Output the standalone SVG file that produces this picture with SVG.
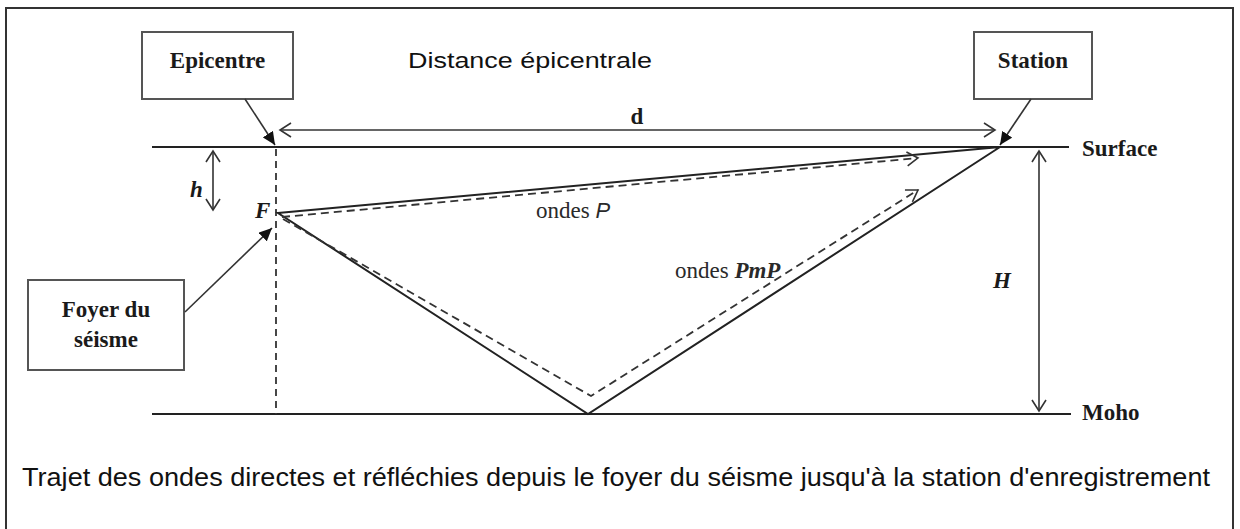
<svg xmlns="http://www.w3.org/2000/svg" width="1240" height="529" viewBox="0 0 1240 529">
<style>
.box{fill:#fff;stroke:#555;stroke-width:2}
.lbl{font-family:"Liberation Serif","Times New Roman",serif;font-weight:bold;font-size:23px;fill:#1a1a1a}
.ln{stroke:#222;stroke-width:2;fill:none}
.thin{stroke:#333;stroke-width:1.6;fill:none}
.dash{stroke:#333;stroke-width:1.8;fill:none;stroke-dasharray:8 5}
.it{font-family:"Liberation Serif","Times New Roman",serif;font-style:italic;font-weight:bold;font-size:23px;fill:#1a1a1a}
.sans{font-family:"Liberation Sans",Arial,sans-serif;fill:#111}
.ser{font-family:"Liberation Serif","Times New Roman",serif;font-size:23px;fill:#2a2a2a}
</style>
<defs>
<marker id="fill" markerUnits="userSpaceOnUse" markerWidth="14" markerHeight="12" refX="13" refY="6" orient="auto">
<path d="M0,0 L13,6 L0,12 z" fill="#111"/>
</marker>
<marker id="open" markerUnits="userSpaceOnUse" markerWidth="14" markerHeight="16" refX="12" refY="8" orient="auto-start-reverse">
<path d="M1,1 L12,8 L1,15" fill="none" stroke="#333" stroke-width="1.6"/>
</marker>
</defs>
<rect x="6" y="8" width="1227" height="540" fill="#fff" stroke="#333" stroke-width="2"/>

<g id="epicentre">
<rect class="box" x="142" y="32" width="151" height="67"/>
<text class="lbl" x="217.5" y="68" text-anchor="middle">Epicentre</text>
</g>
<g id="station">
<rect class="box" x="974" y="32" width="118" height="67"/>
<text class="lbl" x="1033" y="68" text-anchor="middle">Station</text>
</g>
<g id="foyer">
<rect class="box" x="28" y="280" width="156" height="90"/>
<text class="lbl" x="106" y="317" text-anchor="middle">Foyer du</text>
<text class="lbl" x="106" y="347" text-anchor="middle">séisme</text>
</g>
<g id="surface">
<line class="ln" x1="152" y1="147" x2="1069" y2="147"/>
<text class="lbl" x="1082" y="156">Surface</text>
</g>
<g id="moho">
<line class="ln" x1="152" y1="414" x2="1071" y2="414"/>
<text class="lbl" x="1082" y="420">Moho</text>
</g>
<g id="titre">
<text class="sans" x="408" y="68" font-size="22" textLength="244" lengthAdjust="spacingAndGlyphs">Distance épicentrale</text>
</g>
<g id="foyer-point">
<text class="it" x="255" y="218">F</text>
</g>
<g id="legende">
<text class="sans" x="22" y="486" font-size="25" textLength="1188" lengthAdjust="spacingAndGlyphs">Trajet des ondes directes et réfléchies depuis le foyer du séisme jusqu'à la station d'enregistrement</text>
</g>

<g id="connectors">
<line class="thin" x1="245" y1="99" x2="275" y2="145" marker-end="url(#fill)"/>
<line class="thin" x1="1031" y1="99" x2="1000" y2="145" marker-end="url(#fill)"/>
<line class="thin" x1="185" y1="312" x2="272" y2="228" marker-end="url(#fill)"/>
<line class="thin" x1="280" y1="130" x2="995" y2="130" marker-start="url(#open)" marker-end="url(#open)"/>
<text class="lbl" x="637" y="124" text-anchor="middle" font-size="21">d</text>
<line class="thin" x1="213" y1="151" x2="213" y2="210" marker-start="url(#open)" marker-end="url(#open)"/>
<text class="it" x="190" y="197" font-size="22">h</text>
<line class="thin" x1="1039" y1="151" x2="1039" y2="411" marker-start="url(#open)" marker-end="url(#open)"/>
<text class="it" x="993" y="288">H</text>
<line x1="276" y1="149" x2="276" y2="414" stroke="#333" stroke-width="1.8" stroke-dasharray="7 5"/>
<polyline class="ln" points="1000,147 278,213 588,414 1000,147"/>
<line class="dash" x1="282" y1="217" x2="918" y2="158" marker-end="url(#open)"/>
<polyline class="dash" points="283,219 591,396 918,190" marker-end="url(#open)"/>
<text class="ser" x="536" y="218">ondes <tspan font-family="Liberation Sans, Arial, sans-serif" font-style="italic" font-size="22">P</tspan></text>
<text class="ser" x="675" y="278">ondes <tspan font-style="italic" font-weight="bold">PmP</tspan></text>
</g>
</svg>
